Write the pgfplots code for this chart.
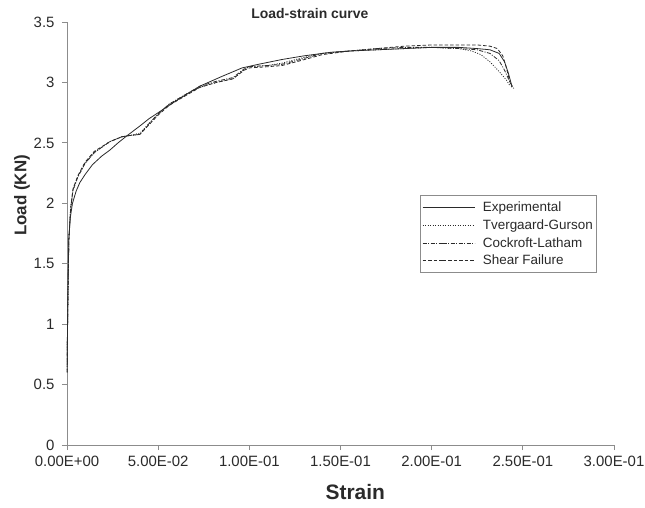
\documentclass[border=0pt]{standalone}
\usepackage{fontspec}
\setmainfont{Liberation Sans}
\usepackage{pgfplots}
\pgfplotsset{compat=1.18}
\definecolor{axgray}{HTML}{8C8C8C}
\definecolor{ln}{HTML}{2A2A2A}
\definecolor{txt}{HTML}{2A2A2A}
\begin{document}
\begin{tikzpicture}
\useasboundingbox (-67bp,-63bp) rectangle (578bp,445bp);
\begin{axis}[
  scale only axis,
  width=547bp, height=423bp,
  xmin=0, xmax=0.3, ymin=0, ymax=3.5,
  axis x line*=bottom, axis y line*=left,
  axis line style={axgray, line width=0.8bp, -},
  tick style={axgray, line width=0.8bp},
  tick align=outside, major tick length=5bp,
  xtick={0,0.05,0.1,0.15,0.2,0.25,0.3},
  xticklabels={0.00E+00,5.00E-02,1.00E-01,1.50E-01,2.00E-01,2.50E-01,3.00E-01},
  ytick={0,0.5,1,1.5,2,2.5,3,3.5},
  yticklabels={0,0.5,1,1.5,2,2.5,3,3.5},
  tick label style={font=\fontsize{15}{15}\selectfont, text=txt},
  xticklabel style={yshift=-3bp},
  yticklabel style={xshift=-4bp},
  title={Load-strain curve},
  title style={font=\bfseries\fontsize{14}{14}\selectfont, text=txt, at={(rel axis cs:0.444,1)}, anchor=center, yshift=3bp},
  xlabel={Strain},
  xlabel style={font=\bfseries\fontsize{21}{21}\selectfont, text=txt, at={(rel axis cs:0.527,0)}, anchor=center, yshift=-47bp},
  ylabel={Load (KN)},
  ylabel style={font=\bfseries\fontsize{17}{17}\selectfont, text=txt, at={(rel axis cs:0,0.59)}, anchor=center, yshift=45bp},
  legend style={at={(rel axis cs:0.645,0.591)}, anchor=north west, draw=axgray, line width=0.6bp,
    font=\fontsize{13.5}{15}\selectfont, text=txt, inner xsep=2bp, inner ysep=3bp,
    /tikz/every odd column/.append style={column sep=6bp},
    nodes={inner ysep=3.3bp}},
  legend cell align=left,
  legend image code/.code={\path (0bp,0bp) -- (20bp,0bp); \draw[#1, line width=0.7bp] (20bp,0bp) -- (52bp,0bp);},
]
\addplot[ln, line width=0.8bp] coordinates {
(0,0.6)(0.0003,1.0)(0.0006,1.4)(0.001,1.7)(0.0018,1.88)(0.003,2.0)(0.005,2.1)(0.007,2.17)(0.01,2.24)(0.014,2.32)(0.019,2.39)(0.0235,2.44)(0.028,2.5)(0.033,2.56)(0.04,2.64)(0.045,2.70)(0.05,2.75)(0.06,2.85)(0.073,2.97)(0.085,3.05)(0.096,3.12)(0.105,3.15)(0.118,3.19)(0.13,3.22)(0.145,3.25)(0.155,3.26)(0.17,3.27)(0.185,3.28)(0.2,3.29)(0.215,3.29)(0.225,3.28)(0.232,3.27)(0.237,3.24)(0.240,3.17)(0.242,3.08)(0.244,2.97)
};
\addlegendentry{Experimental}
\addplot[ln, line width=0.8bp, dash pattern=on 1bp off 1.5bp] coordinates {
(0,0.6)(0.0005,1.2)(0.001,1.7)(0.002,1.95)(0.0033,2.11)(0.006,2.22)(0.0099,2.33)(0.015,2.42)(0.0235,2.51)(0.03,2.55)(0.034,2.56)(0.04,2.58)(0.045,2.66)(0.05,2.74)(0.056,2.82)(0.065,2.9)(0.073,2.96)(0.082,3.0)(0.091,3.03)(0.097,3.1)(0.1,3.13)(0.11,3.14)(0.118,3.16)(0.128,3.2)(0.14,3.24)(0.155,3.26)(0.17,3.27)(0.185,3.28)(0.2,3.29)(0.215,3.28)(0.222,3.26)(0.227,3.23)(0.232,3.17)(0.237,3.09)(0.241,3.02)(0.243,2.97)
};
\addlegendentry{Tvergaard-Gurson}
\addplot[ln, line width=0.8bp, dash pattern=on 4bp off 1.5bp on 1bp off 1.5bp] coordinates {
(0,0.6)(0.0005,1.2)(0.001,1.7)(0.002,1.96)(0.0033,2.11)(0.006,2.22)(0.0099,2.33)(0.015,2.42)(0.0235,2.51)(0.03,2.55)(0.034,2.56)(0.04,2.57)(0.045,2.66)(0.05,2.74)(0.056,2.82)(0.065,2.9)(0.073,2.97)(0.082,3.01)(0.091,3.04)(0.097,3.11)(0.1,3.13)(0.11,3.14)(0.118,3.15)(0.128,3.19)(0.14,3.24)(0.155,3.26)(0.17,3.28)(0.185,3.29)(0.2,3.29)(0.215,3.28)(0.225,3.27)(0.232,3.24)(0.237,3.18)(0.240,3.1)(0.243,3.0)(0.245,2.95)
};
\addlegendentry{Cockroft-Latham}
\addplot[ln, line width=0.8bp, dash pattern=on 3.5bp off 2bp] coordinates {
(0,0.6)(0.0005,1.2)(0.001,1.7)(0.002,1.96)(0.0033,2.12)(0.006,2.23)(0.0099,2.34)(0.015,2.43)(0.0235,2.51)(0.03,2.55)(0.034,2.56)(0.04,2.57)(0.045,2.65)(0.05,2.73)(0.056,2.81)(0.065,2.89)(0.073,2.96)(0.082,3.0)(0.091,3.03)(0.097,3.1)(0.1,3.12)(0.11,3.13)(0.118,3.14)(0.128,3.18)(0.14,3.23)(0.155,3.26)(0.17,3.28)(0.185,3.30)(0.2,3.31)(0.215,3.31)(0.225,3.31)(0.232,3.30)(0.236,3.28)(0.239,3.22)(0.241,3.12)(0.243,3.0)(0.244,2.96)
};
\addlegendentry{Shear Failure}
\end{axis}
\end{tikzpicture}
\end{document}
